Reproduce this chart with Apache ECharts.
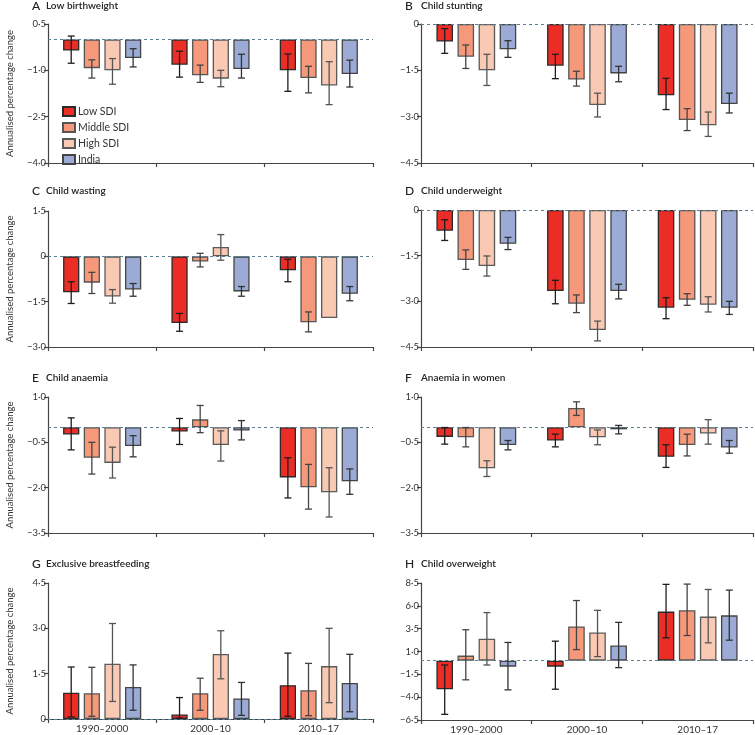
<!DOCTYPE html>
<html>
<head>
<meta charset="utf-8">
<script src="https://cdn.jsdelivr.net/npm/echarts@6/dist/echarts.min.js"></script>
<style>html,body{margin:0;padding:0;background:#fff;}#c{width:755px;height:735px;}</style>
</head>
<body>
<div id="c"></div>
<script>
const categories = ['1990–2000', '2000–10', '2010–17'];
const seriesNames = ['Low SDI', 'Middle SDI', 'High SDI', 'India'];
const panelLetters = ['A', 'B', 'C', 'D', 'E', 'F', 'G', 'H'];
const panelTitles = ['Low birthweight', 'Child stunting', 'Child wasting', 'Child underweight',
  'Child anaemia', 'Anaemia in women', 'Exclusive breastfeeding', 'Child overweight'];
const yAxisName = 'Annualised percentage change';
// y-axis ranges [min, max, interval]
const yRanges = [[-4, 0.5, 1.5], [-4.5, 0, 1.5], [-3, 1.5, 1.5], [-4.5, 0, 1.5],
  [-3.5, 1, 1.5], [-3.5, 1, 1.5], [0, 4.5, 1.5], [-6.5, 8.5, 2.5]];

// values: one row per series (Low, Middle, High, India), one column per period
const lowBirthweightVal = [[-0.36, -0.82, -1.00], [-0.93, -1.16, -1.25], [-1.00, -1.27, -1.49], [-0.60, -0.96, -1.12]];
const lowBirthweightUp = [[0.11, -0.38, -0.47], [-0.66, -0.83, -0.87], [-0.62, -1.00, -0.72], [-0.30, -0.48, -0.67]];
const lowBirthweightLo = [[-0.77, -1.22, -1.68], [-1.25, -1.39, -1.73], [-1.45, -1.53, -2.11], [-0.89, -1.25, -1.54]];

const stuntingVal = [[-0.57, -1.35, -2.31], [-1.06, -1.80, -3.11], [-1.50, -2.62, -3.28], [-0.82, -1.60, -2.59]];
const stuntingUp = [[-0.15, -0.98, -1.76], [-0.68, -1.53, -2.74], [-0.98, -2.24, -2.85], [-0.54, -1.37, -2.24]];
const stuntingLo = [[-0.95, -1.77, -2.77], [-1.44, -2.01, -3.45], [-1.99, -3.01, -3.64], [-1.08, -1.87, -2.88]];

const wastingVal = [[-1.19, -2.21, -0.46], [-0.87, -0.17, -2.18], [-1.33, 0.31, -2.04], [-1.10, -1.16, -1.24]];
const wastingUp = [[-0.84, -1.89, -0.10], [-0.53, 0.10, -1.84], [-1.10, 0.72, null], [-0.90, -1.00, -1.00]];
const wastingLo = [[-1.56, -2.48, -0.84], [-1.23, -0.35, -2.50], [-1.55, -0.13, null], [-1.32, -1.32, -1.47]];

const underweightVal = [[-0.68, -2.66, -3.21], [-1.64, -3.08, -2.95], [-1.84, -3.94, -3.11], [-1.11, -2.66, -3.21]];
const underweightUp = [[-0.32, -2.31, -2.88], [-1.31, -2.79, -2.75], [-1.51, -3.65, -2.85], [-0.90, -2.44, -3.00]];
const underweightLo = [[-1.00, -3.08, -3.57], [-1.95, -3.37, -3.13], [-2.17, -4.30, -3.35], [-1.30, -2.92, -3.43]];

const childAnaemiaVal = [[-0.24, -0.14, -1.66], [-1.01, 0.26, -1.99], [-1.18, -0.59, -2.15], [-0.62, -0.11, -1.79]];
const childAnaemiaUp = [[0.31, 0.29, -1.01], [-0.50, 0.72, -1.23], [-0.66, -0.12, -1.34], [-0.28, 0.22, -1.38]];
const childAnaemiaLo = [[-0.75, -0.57, -2.34], [-1.55, -0.18, -2.71], [-1.68, -1.12, -2.97], [-0.98, -0.42, -2.22]];

const womenAnaemiaVal = [[-0.32, -0.44, -0.98], [-0.33, 0.64, -0.59], [-1.36, -0.33, -0.21], [-0.59, -0.07, -0.67]];
const womenAnaemiaUp = [[-0.01, -0.23, -0.58], [-0.01, 0.84, -0.23], [-1.11, -0.09, 0.25], [-0.44, 0.06, -0.44]];
const womenAnaemiaLo = [[-0.56, -0.65, -1.33], [-0.65, 0.39, -0.95], [-1.63, -0.58, -0.56], [-0.75, -0.22, -0.86]];

const breastfeedingVal = [[0.87, 0.15, 1.12], [0.85, 0.85, 0.95], [1.83, 2.15, 1.75], [1.06, 0.68, 1.19]];
const breastfeedingUp = [[1.72, 0.71, 2.18], [1.71, 1.35, 1.84], [3.16, 2.92, 3.00], [1.79, 1.21, 2.14]];
const breastfeedingLo = [[0.07, 0.03, 0.09], [0.09, 0.29, 0.11], [0.58, 1.33, 0.54], [0.29, 0.12, 0.24]];

const overweightVal = [[-3.13, -0.66, 5.37], [0.55, 3.75, 5.51], [2.39, 3.09, 4.82], [-0.66, 1.65, 4.96]];
const overweightUp = [[-0.48, 2.13, 8.35], [3.38, 6.58, 8.38], [5.26, 5.51, 7.79], [1.99, 4.19, 7.72]];
const overweightLo = [[-5.88, -3.13, 2.50], [-2.10, 1.21, 2.75], [-0.48, 0.44, 1.95], [-3.20, -0.77, 2.24]];

const panelData = [
  [lowBirthweightVal, lowBirthweightUp, lowBirthweightLo],
  [stuntingVal, stuntingUp, stuntingLo],
  [wastingVal, wastingUp, wastingLo],
  [underweightVal, underweightUp, underweightLo],
  [childAnaemiaVal, childAnaemiaUp, childAnaemiaLo],
  [womenAnaemiaVal, womenAnaemiaUp, womenAnaemiaLo],
  [breastfeedingVal, breastfeedingUp, breastfeedingLo],
  [overweightVal, overweightUp, overweightLo]
];

// ---- styling / layout ----
const FONT = 'Lato';
const colors = ['#ec2d26', '#f5997a', '#fac9b3', '#9babd5'];
const borderColors = ['#2a2a2a', '#555555', '#5a5a5a', '#444444'];
const errColors = ['#1e1e1e', '#444444', '#555555', '#333333'];
const gridBoxes = [
  {left: 48, top: 24, width: 325, height: 139},
  {left: 421, top: 24, width: 332, height: 139},
  {left: 48, top: 211, width: 325, height: 136},
  {left: 421, top: 210, width: 332, height: 137},
  {left: 48, top: 397, width: 325, height: 136},
  {left: 421, top: 397, width: 332, height: 136},
  {left: 48, top: 583, width: 325, height: 136},
  {left: 421, top: 583, width: 332, height: 138}
];
const titleTops = [0, 0, 185, 185, 372, 372, 558, 558];
const BAR_W = 0.15, BAR_GAP = 0.27;

function fmt(v) {
  if (Math.abs(v) < 1e-9) return '0';
  const s = Math.abs(v).toFixed(1).replace('.', '·');
  return (v < 0 ? '−' : '') + s;
}

function makeErr(k) {
  return function (params, api) {
    const hi = api.value(1), lo = api.value(2);
    if (hi == null || lo == null || isNaN(hi) || isNaN(lo)) return null;
    const c = api.value(0);
    const band = api.size([1, 0])[0];
    const w = band * BAR_W;
    const x = api.coord([c, 0])[0] + (k - 1.5) * w * (1 + BAR_GAP);
    const y1 = api.coord([c, hi])[1];
    const y2 = api.coord([c, lo])[1];
    const cap = 3.5;
    const st = {stroke: errColors[k], lineWidth: 1.3};
    return {
      type: 'group',
      children: [
        {type: 'line', shape: {x1: x, y1: y1, x2: x, y2: y2}, style: st},
        {type: 'line', shape: {x1: x - cap, y1: y1, x2: x + cap, y2: y1}, style: st},
        {type: 'line', shape: {x1: x - cap, y1: y2, x2: x + cap, y2: y2}, style: st}
      ]
    };
  };
}

const grids = [], xAxes = [], yAxes = [], series = [], titles = [];
gridBoxes.forEach((g, p) => {
  grids.push(Object.assign({containLabel: false}, g));
  const isLeft = p % 2 === 0;
  const isBottom = p >= 6;
  xAxes.push({
    type: 'category', gridIndex: p, data: categories, position: 'bottom',
    axisLine: {onZero: false, lineStyle: {color: '#444', width: 1.2}},
    axisTick: {show: true, length: 4, interval: 0, alignWithLabel: false, lineStyle: {color: '#444', width: 1.2}},
    axisLabel: {show: isBottom, fontFamily: FONT, fontSize: 10, color: '#333', margin: 5, interval: 0},
    splitLine: {show: false}
  });
  const r = yRanges[p];
  yAxes.push({
    type: 'value', gridIndex: p, min: r[0], max: r[1], interval: r[2],
    axisLine: {show: true, lineStyle: {color: '#444', width: 1.2}},
    axisTick: {show: true, length: 4, lineStyle: {color: '#444', width: 1.2}},
    axisLabel: {fontFamily: FONT, fontSize: 9.5, color: '#333', margin: 2, formatter: fmt},
    splitLine: {show: false},
    name: isLeft ? yAxisName : '',
    nameLocation: 'middle', nameGap: 33,
    nameTextStyle: {fontFamily: FONT, fontSize: 9.5, color: '#333'}
  });
  titles.push({
    left: isLeft ? 32 : 405, top: titleTops[p], padding: 0,
    text: '{l|' + panelLetters[p] + '}{t|' + panelTitles[p] + '}',
    textStyle: {
      rich: {
        l: {fontFamily: FONT, fontSize: 12, fontWeight: 500, color: '#222', width: isLeft ? 14 : 16},
        t: {fontFamily: FONT, fontSize: 10, fontWeight: 600, color: '#222'}
      }
    }
  });
  const [vals, ups, los] = panelData[p];
  seriesNames.forEach((name, k) => {
    const s = {
      type: 'bar', name: name, xAxisIndex: p, yAxisIndex: p,
      data: vals[k], barWidth: (BAR_W * 100) + '%', barGap: (BAR_GAP * 100) + '%',
      itemStyle: {color: colors[k], borderColor: borderColors[k], borderWidth: 1.3},
      emphasis: {disabled: true}
    };
    if (k === 0) {
      s.markLine = {
        silent: true, symbol: ['none', 'none'], label: {show: false},
        lineStyle: {type: [3, 3], color: '#5b7f90', width: 1},
        data: [{yAxis: 0}]
      };
    }
    series.push(s);
  });
  seriesNames.forEach((name, k) => {
    series.push({
      type: 'custom', name: name + ' UI', xAxisIndex: p, yAxisIndex: p, z: 5,
      renderItem: makeErr(k),
      data: categories.map((c, i) => [i, ups[k][i], los[k][i]])
    });
  });
});

const chart = echarts.init(document.getElementById('c'), null, {renderer: 'canvas'});
chart.setOption({
  animation: false,
  backgroundColor: '#fff',
  title: titles,
  legend: {
    left: 57, top: 101, orient: 'vertical', icon: 'rect',
    itemWidth: 12, itemHeight: 9, itemGap: 5, selectedMode: false,
    data: seriesNames,
    textStyle: {fontFamily: FONT, fontSize: 10.5, color: '#333', padding: [0, 0, 0, -2]}
  },
  grid: grids, xAxis: xAxes, yAxis: yAxes, series: series
});
</script>
</body>
</html>
